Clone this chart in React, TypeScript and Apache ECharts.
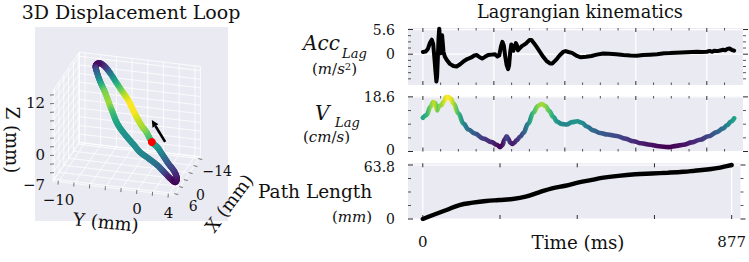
import { useEffect, useRef } from 'react';
import * as echarts from 'echarts';

const SERIF = '"DejaVu Serif", serif';
const PANEL_BG = '#EAEAF2';
const TICK = '#2b2b2b';

// ---------- Lagrangian kinematics (time in ms) ----------
const accSamples: [number, number][] = [
  [0, 0.5], [8, 0.6], [14, 1.2], [20, 2.6], [25, 3.3], [29, 2.3], [32, -0.5], [35, -3.5], [38, -6.2], [40, -5.0],
  [42, -1.0], [44, 3.5], [46, 5.8], [48, 3.2], [50, 0.2], [52, 2.0], [54, 4.3], [56, 2.5], [58, 0.5], [62, -0.6],
  [68, -1.4], [76, -2.2], [86, -2.7], [95, -2.8], [105, -2.3], [115, -1.6], [125, -1.1], [135, -0.8], [145, -0.3], [152, -0.2],
  [160, -0.7], [167, -1.0], [175, -0.6], [184, -0.2], [194, -0.1], [203, 0.0], [210, -0.5], [215, -0.3], [220, 1.8], [224, 2.8],
  [228, 2.0], [232, -0.5], [236, -2.5], [240, -3.4], [243, -2.5], [246, 0.5], [249, 2.2], [252, 1.0], [255, 0.8], [258, 1.6],
  [262, 2.5], [265, 2.0], [268, 0.9], [272, 1.3], [280, 1.9], [290, 2.4], [300, 3.2], [306, 3.2], [313, 2.5], [321, 1.6],
  [330, 0.5], [339, -0.6], [348, -1.5], [358, -2.1], [365, -2.1], [375, -1.3], [385, -0.3], [395, 0.5], [402, 0.7], [410, 0.5],
  [420, 0.3], [432, -0.3], [445, -0.7], [460, -0.6], [475, -0.4], [490, -0.1], [508, 0.15], [525, 0.1], [545, 0.0], [565, -0.2],
  [585, -0.3], [603, -0.35], [620, -0.2], [640, -0.1], [660, 0.0], [680, 0.2], [696, 0.25], [712, 0.35], [728, 0.4], [743, 0.45],
  [758, 0.5], [772, 0.55], [786, 0.5], [800, 0.55], [808, 0.75], [814, 0.55], [822, 0.8], [830, 0.7], [838, 0.85], [846, 1.0],
  [852, 0.9], [858, 1.2], [864, 1.3], [870, 1.0], [877, 0.8],
];

const velSamples: [number, number][] = [
  [0, 11.5], [10, 12.4], [22, 15.3], [29, 16.8], [35, 16.5], [40, 14.0], [45, 15.4], [52, 15.8], [59, 17.0], [66, 18.5],
  [72, 18.5], [78, 18.0], [86, 16.4], [100, 13.0], [114, 9.5], [128, 7.5], [147, 6.1], [170, 4.4], [194, 3.2], [208, 2.3],
  [217, 1.5], [224, 2.2], [230, 4.0], [236, 5.2], [241, 4.2], [246, 3.0], [252, 2.6], [258, 3.0], [264, 3.8], [274, 5.0],
  [283, 6.3], [297, 9.5], [311, 13.2], [325, 15.6], [335, 16.2], [345, 15.5], [356, 13.8], [367, 11.8], [378, 10.2], [390, 9.4],
  [405, 9.2], [420, 10.0], [435, 10.3], [448, 9.8], [462, 8.5], [480, 7.2], [499, 6.3], [520, 5.8], [546, 5.3], [570, 4.4],
  [593, 3.5], [615, 2.8], [640, 2.3], [665, 1.8], [692, 1.5], [715, 1.9], [734, 2.3], [758, 3.1], [781, 4.0], [805, 5.2],
  [828, 6.6], [845, 7.8], [858, 9.0], [868, 10.2], [877, 11.3],
];

const pathSamples: [number, number][] = [
  [0, 0], [29, 4.7], [67, 10.6], [104, 16.5], [142, 19.3], [180, 21.3], [217, 22.4], [255, 23.6], [292, 26.3], [330, 31.5],
  [367, 36.3], [405, 39.3], [443, 43.3], [480, 46.2], [508, 48.5], [555, 51.0], [603, 52.8], [650, 53.8], [696, 54.7], [740, 55.8],
  [771, 57.0], [800, 58.2], [819, 59.0], [840, 60.3], [856, 61.8], [877, 63.8],
];

// ---------- ticks ----------
const accTicks = [-5.6, -4.2, -2.8, -1.4, 0, 1.4, 2.8, 4.2, 5.6];
const accLabels = [0, 5.6];
const velTicks = [0, 4.65, 9.3, 13.95, 18.6];
const velLabels = [0, 18.6];
const pathTicks = [0, 15.95, 31.9, 47.85, 63.8];
const pathLabels = [0, 63.8];
const timeMajor = [0, 200, 400, 600, 800];
const timeMinor = [50, 100, 150, 250, 300, 350, 450, 500, 550, 650, 700, 750, 850];
const pathTimeTicks = [0, 219.25, 438.5, 657.75, 877];
const timeLabels = [0, 877];

// ---------- 3D displacement loop (mm), in order of motion ----------
const loopX = [-0.7, -2.2, -3.4, -4.8, -6.1, -7.8, -9.1, -10.6, -12.3, -13.5, -14, -13.5, -12.5, -10.8, -9.0, -6.9,
  -5.6, -4.3, -3.1, -1.6, -0.4, 1.0, 2.0, 3.1, 4.3, 5.3, 6.0, 5.3, 4.2, 2.8, 1.3, 0.1];
const loopY = [0.7, -0.15, -1.0, -1.8, -2.5, -3.4, -4.3, -5.3, -6.4, -7.3, -8.05, -8.4, -8.1, -7.4, -6.5, -5.6,
  -5.0, -4.4, -3.7, -2.6, -1.65, -0.55, 0.6, 1.95, 3.0, 3.9, 4.7, 4.8, 4.3, 3.3, 2.3, 1.5];
const loopZ = [0.4, 1.7, 2.7, 3.8, 4.9, 6.4, 7.5, 8.8, 10.2, 11.1, 11.4, 10.9, 9.95, 8.5, 6.9, 5.1,
  3.9, 2.7, 1.7, 0.5, -0.4, -1.5, -2.2, -3.1, -4.0, -4.8, -5.3, -4.6, -3.6, -2.5, -1.2, -0.25];
// speed (cm/s) along the loop, used for its colour
const loopSpeed = [11.5, 14, 16, 17, 18.3, 18.5, 16.5, 13, 9, 4.5, 2.5, 1.8, 6, 10, 15, 16,
  13.5, 12, 11, 10, 10, 9.5, 9, 8, 6, 3, 1.5, 2, 3.5, 5.5, 8, 10];
const arrowTail = [-0.7, 2.4, 0.8];
const arrowHead = [-0.7, 0.7, 5.5];

// 3D axes (limits include the default margins)
const X_LIM = [-15, 7];
const Y_LIM = [-10.7, 4.7];
const Z_LIM = [-7.95, 12.95];
const xGrid = [-14, -10, -6, -2, 2, 6];
const yGrid = [-10, -8, -6, -4, -2, 0, 2, 4];
const zGrid = [-6, -4, -2, 0, 2, 4, 6, 8, 10, 12];
const xTickLabels = [-14, 0, 6];
const yTickLabels = [-10, 0, 4];
const zTickLabels = [-7, 0, 12];

// ---------- colour map ----------
const VIRIDIS = ['#440154', '#48186a', '#472d7b', '#424086', '#3b528b', '#33638d', '#2c728e', '#26828e', '#21918c',
  '#1fa088', '#28ae80', '#3fbc73', '#5ec962', '#84d44b', '#addc30', '#d8e219', '#fde725'];
const hexRgb = (h: string) => [1, 3, 5].map((i) => parseInt(h.slice(i, i + 2), 16));
function viridis(f: number) {
  const c = Math.min(1, Math.max(0, f)) * (VIRIDIS.length - 1);
  const i = Math.min(VIRIDIS.length - 2, Math.floor(c));
  const k = c - i;
  const a = hexRgb(VIRIDIS[i]);
  const b = hexRgb(VIRIDIS[i + 1]);
  return `rgb(${a.map((v, j) => Math.round(v + (b[j] - v) * k)).join(',')})`;
}
const velVals = velSamples.map((d) => d[1]);
const V_MIN = Math.min(...velVals);
const V_MAX = Math.max(...velVals);
const speedColor = (v: number) => viridis((v - V_MIN) / (V_MAX - V_MIN));

// ---------- view of the 3D box inside the left panel (panel pixels) ----------
const BOX_ORIGIN = [18, 154]; // corner at x = max, y = min, z = min
const BOX_X = [26.4, -38.5]; // x from max to min
const BOX_Y = [121, 14.3]; // y from min to max
const BOX_Z = [0, -90.3]; // z from min to max
function project(x: number, y: number, z: number): [number, number] {
  const u = (X_LIM[1] - x) / (X_LIM[1] - X_LIM[0]);
  const v = (y - Y_LIM[0]) / (Y_LIM[1] - Y_LIM[0]);
  const w = (z - Z_LIM[0]) / (Z_LIM[1] - Z_LIM[0]);
  return [
    BOX_ORIGIN[0] + u * BOX_X[0] + v * BOX_Y[0] + w * BOX_Z[0],
    BOX_ORIGIN[1] + u * BOX_X[1] + v * BOX_Y[1] + w * BOX_Z[1],
  ];
}

const T_MIN = -42;
const T_MAX = 902;
const fmtMinus = (v: number) => (v < 0 ? '\u2212' + Math.abs(v) : String(v));

function lineEl(x1: number, y1: number, x2: number, y2: number, stroke: string, lineWidth: number) {
  return { type: 'line', shape: { x1, y1, x2, y2 }, style: { stroke, lineWidth, lineCap: 'butt' }, silent: true };
}

function textEl(text: string, x: number, y: number, size: number, align = 'center', extra: any = {}) {
  return {
    type: 'text',
    x,
    y,
    rotation: extra.rotation || 0,
    silent: true,
    style: {
      text,
      fontSize: size,
      fontFamily: SERIF,
      fontStyle: extra.italic ? 'italic' : 'normal',
      fill: '#111',
      align,
      verticalAlign: 'middle',
      textAlign: align,
      textVerticalAlign: 'middle',
      rich: extra.rich,
    },
  };
}

function loopRender(_params: any, api: any) {
  const P = (x: number, y: number, z: number) => api.coord(project(x, y, z));
  const els: any[] = [];
  const GRID = '#ffffff';
  const gridLine = (a: number[], b: number[]) => els.push(lineEl(a[0], a[1], b[0], b[1], GRID, 0.8));
  const xs = [X_LIM[0], ...xGrid, X_LIM[1]];
  const ys = [Y_LIM[0], ...yGrid, Y_LIM[1]];
  const zs = [Z_LIM[0], ...zGrid, Z_LIM[1]];
  // back wall (x = min)
  ys.forEach((y) => gridLine(P(X_LIM[0], y, Z_LIM[0]), P(X_LIM[0], y, Z_LIM[1])));
  zs.forEach((z) => gridLine(P(X_LIM[0], Y_LIM[0], z), P(X_LIM[0], Y_LIM[1], z)));
  // side wall (y = min)
  xs.forEach((x) => gridLine(P(x, Y_LIM[0], Z_LIM[0]), P(x, Y_LIM[0], Z_LIM[1])));
  zs.forEach((z) => gridLine(P(X_LIM[0], Y_LIM[0], z), P(X_LIM[1], Y_LIM[0], z)));
  // floor (z = min)
  xs.forEach((x) => gridLine(P(x, Y_LIM[0], Z_LIM[0]), P(x, Y_LIM[1], Z_LIM[0])));
  ys.forEach((y) => gridLine(P(X_LIM[0], y, Z_LIM[0]), P(X_LIM[1], y, Z_LIM[0])));
  // axis ticks
  zGrid.forEach((z) => {
    const a = P(X_LIM[1], Y_LIM[0], z);
    els.push(lineEl(a[0] - 3, a[1] + 0.3, a[0] + 1, a[1], '#555', 0.8));
  });
  yGrid.forEach((y) => {
    const a = P(X_LIM[1], y, Z_LIM[0]);
    els.push(lineEl(a[0] - 0.2, a[1] - 1, a[0] - 0.5, a[1] + 3, '#555', 0.8));
  });
  xGrid.forEach((x) => {
    const a = P(x, Y_LIM[1], Z_LIM[0]);
    els.push(lineEl(a[0] - 1, a[1], a[0] + 3, a[1] + 1, '#555', 0.8));
  });
  // coloured loop (Catmull-Rom through the samples)
  const pts = loopX.map((x, i) => P(x, loopY[i], loopZ[i]));
  const n = pts.length;
  const STEPS = 5;
  for (let i = 0; i < n; i++) {
    const p0 = pts[(i - 1 + n) % n];
    const p1 = pts[i];
    const p2 = pts[(i + 1) % n];
    const p3 = pts[(i + 2) % n];
    const c1 = [p1[0] + (p2[0] - p0[0]) / 6, p1[1] + (p2[1] - p0[1]) / 6];
    const c2 = [p2[0] - (p3[0] - p1[0]) / 6, p2[1] - (p3[1] - p1[1]) / 6];
    const s1 = loopSpeed[i];
    const s2 = loopSpeed[(i + 1) % n];
    let prev = p1;
    for (let k = 1; k <= STEPS; k++) {
      const t = k / STEPS;
      const mt = 1 - t;
      const q = [
        mt * mt * mt * p1[0] + 3 * mt * mt * t * c1[0] + 3 * mt * t * t * c2[0] + t * t * t * p2[0],
        mt * mt * mt * p1[1] + 3 * mt * mt * t * c1[1] + 3 * mt * t * t * c2[1] + t * t * t * p2[1],
      ];
      els.push({
        type: 'line',
        shape: { x1: prev[0], y1: prev[1], x2: q[0], y2: q[1] },
        style: { stroke: speedColor(s1 + ((s2 - s1) * (k - 0.5)) / STEPS), lineWidth: 6, lineCap: 'round' },
        silent: true,
      });
      prev = q;
    }
  }
  // start marker
  const s = P(loopX[0], loopY[0], loopZ[0]);
  els.push({ type: 'circle', shape: { cx: s[0], cy: s[1], r: 4 }, style: { fill: '#ff0000' }, silent: true });
  // direction arrow
  const a0 = P(arrowTail[0], arrowTail[1], arrowTail[2]);
  const a1 = P(arrowHead[0], arrowHead[1], arrowHead[2]);
  const dx = a1[0] - a0[0];
  const dy = a1[1] - a0[1];
  const len = Math.hypot(dx, dy);
  const ux = dx / len;
  const uy = dy / len;
  const base = [a1[0] - ux * 7, a1[1] - uy * 7];
  els.push(lineEl(a0[0], a0[1], base[0], base[1], '#000', 2.6));
  els.push({
    type: 'polygon',
    shape: { points: [[a1[0], a1[1]], [base[0] - uy * 3.5, base[1] + ux * 3.5], [base[0] + uy * 3.5, base[1] - ux * 3.5]] },
    style: { fill: '#000' },
    silent: true,
  });
  // tick labels
  zTickLabels.forEach((z) => {
    const p = P(X_LIM[1], Y_LIM[0], z);
    els.push(textEl(fmtMinus(z), p[0] - 8, p[1] + 8, 15, 'right'));
  });
  yTickLabels.forEach((y) => {
    const p = P(X_LIM[1], y, Z_LIM[0]);
    els.push(textEl(fmtMinus(y), p[0], p[1] + 18, 15, 'center'));
  });
  xTickLabels.forEach((x) => {
    const p = P(x, Y_LIM[1], Z_LIM[0]);
    els.push(textEl(fmtMinus(x), p[0] + 18, p[1] + 12, 14, 'center'));
  });
  return { type: 'group', children: els };
}

function frameRender(cfg: {
  yMin: number; yMax: number; vGrid: number[]; hGrid: number[];
  major: number[]; minor: number[]; yTicks: number[]; yLabels: number[];
  labelShift: (v: number) => number;
}) {
  return (_params: any, api: any) => {
    const els: any[] = [];
    const L = api.coord([T_MIN, cfg.yMin])[0];
    const R = api.coord([T_MAX, cfg.yMin])[0];
    const B = api.coord([0, cfg.yMin])[1];
    const T = api.coord([0, cfg.yMax])[1];
    cfg.vGrid.forEach((t) => {
      const x = api.coord([t, cfg.yMin])[0];
      els.push(lineEl(x, T, x, B, '#ffffff', 1.2));
    });
    cfg.hGrid.forEach((v) => {
      const y = api.coord([0, v])[1];
      els.push(lineEl(L, y, R, y, '#ffffff', 1.2));
    });
    cfg.major.forEach((t) => {
      const x = api.coord([t, cfg.yMin])[0];
      els.push(lineEl(x, T, x, T + 4, TICK, 1));
      els.push(lineEl(x, B, x, B - 4, TICK, 1));
    });
    cfg.minor.forEach((t) => {
      const x = api.coord([t, cfg.yMin])[0];
      els.push(lineEl(x, T, x, T + 2.5, TICK, 0.8));
      els.push(lineEl(x, B, x, B - 2.5, TICK, 0.8));
    });
    cfg.yTicks.forEach((v) => {
      const y = api.coord([0, v])[1];
      const long = cfg.yLabels.some((l) => Math.abs(l - v) < 1e-9);
      els.push(lineEl(L, y, L + (long ? 5 : 3), y, TICK, long ? 1 : 0.8));
      els.push(lineEl(R, y, R + (long ? 5 : 3), y, TICK, long ? 1 : 0.8));
    });
    // value labels of the y axis
    cfg.yLabels.forEach((v) => {
      const y = api.coord([0, v])[1];
      els.push(textEl(String(v), L - 13, y + cfg.labelShift(v), 14, 'right'));
    });
    return { type: 'group', children: els };
  };
}

function buildOption() {
  const panels = [
    { top: 28, height: 57, min: -7, max: 5.95 },
    { top: 96, height: 55.5, min: 0, max: 18.9 },
    { top: 163.3, height: 55.7, min: 0, max: 65.8 },
  ];
  const labelStyle = { fontFamily: SERIF, fontSize: 15, color: '#111' };

  const grid: any[] = [
    { left: 35, top: 27, width: 193, height: 194, show: true, backgroundColor: PANEL_BG, borderWidth: 0 },
    ...panels.map((p) => ({ left: 408, top: p.top, width: 335, height: p.height, show: true, backgroundColor: PANEL_BG, borderWidth: 0 })),
  ];
  const xAxis: any[] = [
    { gridIndex: 0, type: 'value', min: 0, max: 193, show: false },
    ...panels.map((_p, i) => ({
      gridIndex: i + 1,
      type: 'value',
      min: T_MIN,
      max: T_MAX,
      axisLine: { show: false },
      axisTick: { show: false },
      splitLine: { show: false },
      axisLabel: i === 2 ? { show: true, customValues: timeLabels, margin: 15, ...labelStyle } : { show: false },
    })),
  ];
  const yAxis: any[] = [
    { gridIndex: 0, type: 'value', min: 0, max: 194, inverse: true, show: false },
    ...panels.map((p, i) => ({
      gridIndex: i + 1,
      type: 'value',
      min: p.min,
      max: p.max,
      axisLine: { show: false },
      axisTick: { show: false },
      splitLine: { show: false },
      axisLabel: { show: false },
    })),
  ];

  const velStops = velSamples.map(([t, v]) => ({ offset: t / 877, color: speedColor(v) }));

  const series: any[] = [
    { type: 'custom', xAxisIndex: 0, yAxisIndex: 0, data: [[0, 0]], clip: false, silent: true, z: 2, renderItem: loopRender },
    {
      type: 'custom', xAxisIndex: 1, yAxisIndex: 1, data: [[0, 0]], clip: false, silent: true, z: 1,
      renderItem: frameRender({
        yMin: -7, yMax: 5.95, vGrid: timeMajor, hGrid: [0, 5.6], major: timeMajor, minor: timeMinor,
        yTicks: accTicks, yLabels: accLabels, labelShift: () => 0,
      }),
    },
    {
      type: 'custom', xAxisIndex: 2, yAxisIndex: 2, data: [[0, 0]], clip: false, silent: true, z: 1,
      renderItem: frameRender({
        yMin: 0, yMax: 18.9, vGrid: timeMajor, hGrid: [0, 18.6], major: timeMajor, minor: timeMinor,
        yTicks: velTicks, yLabels: velLabels, labelShift: (v) => (v === 0 ? -2 : 0.5),
      }),
    },
    {
      type: 'custom', xAxisIndex: 3, yAxisIndex: 3, data: [[0, 0]], clip: false, silent: true, z: 1,
      renderItem: frameRender({
        yMin: 0, yMax: 65.8, vGrid: [0, 877], hGrid: [0, 63.8], major: pathTimeTicks, minor: [],
        yTicks: pathTicks, yLabels: pathLabels, labelShift: (v) => (v === 0 ? 0 : 2),
      }),
    },
    {
      type: 'line', xAxisIndex: 1, yAxisIndex: 1, data: accSamples, showSymbol: false, z: 3,
      lineStyle: { color: '#000', width: 4, cap: 'round', join: 'round' },
    },
    {
      type: 'line', xAxisIndex: 2, yAxisIndex: 2, data: velSamples, showSymbol: false, z: 3, smooth: 0.4, smoothMonotone: 'x',
      lineStyle: { width: 4.6, cap: 'round', color: { type: 'linear', x: 0, y: 0, x2: 1, y2: 0, colorStops: velStops } },
    },
    {
      type: 'line', xAxisIndex: 3, yAxisIndex: 3, data: pathSamples, showSymbol: false, z: 3, smooth: 0.4,
      lineStyle: { color: '#000', width: 4.4, cap: 'round' },
    },
  ];

  const mathRich = {
    n: { fontFamily: SERIF, fontSize: 15, fill: '#111' },
    i: { fontFamily: SERIF, fontSize: 15, fontStyle: 'italic', fill: '#111' },
    s: { fontFamily: SERIF, fontSize: 10, fill: '#111', verticalAlign: 'top' },
  };

  const graphic: any[] = [
    textEl('3D Displacement Loop', 131, 12, 19),
    textEl('Lagrangian kinematics', 580, 12, 17.7),
    textEl('Acc', 303, 43, 20, 'left', { italic: true }),
    textEl('Lag', 342, 53, 13, 'left', { italic: true }),
    textEl('{n|(}{i|m}{n|/}{i|s}{s|2}{n|)}', 312, 69, 15, 'left', { rich: mathRich }),
    textEl('V', 315, 113, 20, 'left', { italic: true }),
    textEl('Lag', 335, 122, 13, 'left', { italic: true }),
    textEl('{n|(}{i|cm}{n|/}{i|s}{n|)}', 303, 137, 15, 'left', { rich: mathRich }),
    textEl('Path Length', 258, 191, 18.5, 'left'),
    textEl('{n|(}{i|mm}{n|)}', 332, 217, 15, 'left', { rich: mathRich }),
    textEl('Time (ms)', 578, 242, 18.3),
    textEl('Z (mm)', 12, 140, 18, 'center', { rotation: -Math.PI / 2 }),
    textEl('Y (mm)', 106, 222, 18, 'center', { rotation: -0.1 }),
    textEl('X (mm)', 229, 203, 18, 'center', { rotation: 0.93 }),
  ];

  return { animation: false, backgroundColor: '#ffffff', grid, xAxis, yAxis, series, graphic };
}

export default function App() {
  const ref = useRef<HTMLDivElement>(null);
  useEffect(() => {
    if (!ref.current) return;
    const chart = echarts.init(ref.current, null, { renderer: 'svg' });
    chart.setOption(buildOption() as any);
    return () => chart.dispose();
  }, []);
  return <div ref={ref} style={{ position: 'fixed', left: 0, top: 0, width: 749, height: 262 }} />;
}
